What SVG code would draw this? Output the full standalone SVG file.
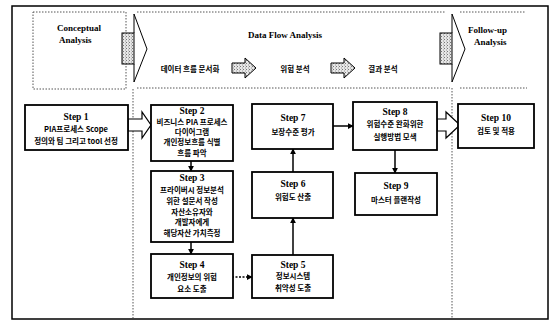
<svg xmlns="http://www.w3.org/2000/svg" width="555" height="324" viewBox="0 0 555 324">
<defs>
<pattern id="stip" width="3" height="3" patternUnits="userSpaceOnUse">
<rect width="3" height="3" fill="#e6e6e6"/>
<rect width="1" height="1" fill="#777"/>
<rect x="2" y="1.5" width="1" height="1" fill="#999"/>
</pattern>
<marker id="ah" viewBox="0 0 8 8" refX="7" refY="4" markerWidth="6" markerHeight="6" orient="auto" markerUnits="userSpaceOnUse">
<path d="M0,0 L8,4 L0,8 z" fill="#000"/>
</marker>
</defs>
<style>
.box{fill:#fff;stroke:#000;stroke-width:1.8}
.dot{fill:none;stroke:#555;stroke-width:1;stroke-dasharray:1.5 1.5}
.st{font-family:"Liberation Serif","Noto Sans CJK KR",serif;font-weight:bold;font-size:9.5px;fill:#000;text-anchor:middle}
.ko{font-family:"Noto Sans CJK KR","Liberation Sans",sans-serif;font-weight:bold;font-size:7.5px;fill:#000;text-anchor:middle}
.hd{font-family:"Liberation Serif",serif;font-weight:bold;font-size:9px;fill:#000}
.ln{stroke:#000;stroke-width:1.5;fill:none}
.blk{fill:#fff;stroke:#000;stroke-width:1.2}
</style>
<rect x="0" y="0" width="555" height="324" fill="#fff"/>
<!-- outer frame -->
<rect x="12" y="6" width="536" height="313" fill="none" stroke="#000" stroke-width="1.5"/>
<!-- top phase areas -->
<g id="phases">
<rect class="dot" x="33" y="12" width="93" height="77"/>
<path class="dot" d="M137,12 H445 M137,88 H450 M460,12 H525 M460,88 H527"/>
<path class="dot" d="M133,89 V318 M452,88 V318" stroke="#aaa"/>
<text class="hd" x="57" y="31">Conceptual</text>
<text class="hd" x="59" y="43">Analysis</text>
<text class="hd" x="248" y="38" font-weight="normal">Data Flow Analysis</text>
<text class="hd" x="468" y="33">Follow-up</text>
<text class="hd" x="474" y="45">Analysis</text>
<text class="ko" x="190" y="72">데이터 흐름 문서화</text>
<text class="ko" x="295" y="72">위험 분석</text>
<text class="ko" x="383" y="72">결과 분석</text>
</g>
<!-- big phase arrows -->
<g id="phase-arrows">
<rect x="122" y="33" width="12" height="31" fill="url(#stip)" stroke="#000" stroke-width="1"/>
<polyline points="134,33 134,14 147,49 134,82 134,64" fill="none" stroke="#000" stroke-width="1"/>
<rect x="440" y="33" width="12" height="31" fill="url(#stip)" stroke="#000" stroke-width="1"/>
<polyline points="452,33 452,14 465,49 452,82 452,64" fill="none" stroke="#000" stroke-width="1"/>
<polygon points="232,63 245,63 245,58 256,68 245,78 245,73 232,73" fill="url(#stip)" stroke="#000" stroke-width="1"/>
<polygon points="331,63 344,63 344,58 355,68 344,78 344,73 331,73" fill="url(#stip)" stroke="#000" stroke-width="1"/>
</g>
<!-- connectors -->
<g id="connectors">
<polygon class="blk" points="128,119 142,119 142,112 151,125 142,138 142,131 128,131"/>
<polygon class="blk" points="437,119 446,119 446,112 460,125 446,138 446,131 437,131"/>
<line class="ln" x1="191" y1="161" x2="191" y2="171" marker-end="url(#ah)"/>
<line class="ln" x1="191" y1="242" x2="191" y2="254" marker-end="url(#ah)"/>
<line class="ln" x1="232" y1="277" x2="252" y2="277" stroke-dasharray="2 1.5" marker-end="url(#ah)"/>
<line class="ln" x1="293" y1="255" x2="293" y2="218" marker-end="url(#ah)"/>
<line class="ln" x1="293" y1="172" x2="293" y2="149" marker-end="url(#ah)"/>
<line class="ln" x1="333" y1="126" x2="353" y2="126" marker-end="url(#ah)"/>
<line class="ln" x1="395" y1="150" x2="395" y2="173" marker-end="url(#ah)"/>
</g>
<g id="step1">
<rect class="box" x="25" y="105" width="103" height="45"/>
<text class="st" x="76" y="120">Step 1</text>
<text class="ko" x="76" y="132">PIA프로세스 Scope</text>
<text class="ko" x="76" y="144">정의와 팀 그리고 tool 선정</text>
</g>
<g id="step2">
<rect class="box" x="151" y="105" width="82" height="56"/>
<text class="st" x="192" y="114">Step 2</text>
<text class="ko" x="192" y="125">비즈니스 PIA 프로세스</text>
<text class="ko" x="192" y="135">다이어그램</text>
<text class="ko" x="192" y="145">개인정보흐름 식별</text>
<text class="ko" x="192" y="156">흐름 파악</text>
</g>
<g id="step3">
<rect class="box" x="151" y="171" width="82" height="71"/>
<text class="st" x="192" y="181">Step 3</text>
<text class="ko" x="192" y="193">프라이버시 정보분석</text>
<text class="ko" x="192" y="204">위한 설문서 작성</text>
<text class="ko" x="192" y="215">자산소유자와</text>
<text class="ko" x="192" y="225">개발자에게</text>
<text class="ko" x="192" y="236">해당자산 가치측정</text>
</g>
<g id="step4">
<rect class="box" x="151" y="254" width="82" height="44"/>
<text class="st" x="192" y="268">Step 4</text>
<text class="ko" x="192" y="280">개인정보의 위험</text>
<text class="ko" x="192" y="292">요소 도출</text>
</g>
<g id="step5">
<rect class="box" x="252" y="255" width="81" height="43"/>
<text class="st" x="293" y="268">Step 5</text>
<text class="ko" x="293" y="279">정보시스템</text>
<text class="ko" x="293" y="291">취약성 도출</text>
</g>
<g id="step6">
<rect class="box" x="252" y="172" width="81" height="46"/>
<text class="st" x="293" y="187">Step 6</text>
<text class="ko" x="293" y="200">위험도 산출</text>
</g>
<g id="step7">
<rect class="box" x="252" y="104" width="81" height="45"/>
<text class="st" x="293" y="121">Step 7</text>
<text class="ko" x="293" y="135">보장수준 평가</text>
</g>
<g id="step8">
<rect class="box" x="353" y="102" width="84" height="48"/>
<text class="st" x="395" y="115">Step 8</text>
<text class="ko" x="395" y="127">위험수준 완화위한</text>
<text class="ko" x="395" y="140">실행방법 모색</text>
</g>
<g id="step9">
<rect class="box" x="355" y="173" width="82" height="42"/>
<text class="st" x="396" y="189">Step 9</text>
<text class="ko" x="396" y="203">마스터 플랜작성</text>
</g>
<g id="step10">
<rect class="box" x="458" y="104" width="76" height="44"/>
<text class="st" x="496" y="121">Step 10</text>
<text class="ko" x="496" y="134">검토 및 적용</text>
</g>
</svg>
